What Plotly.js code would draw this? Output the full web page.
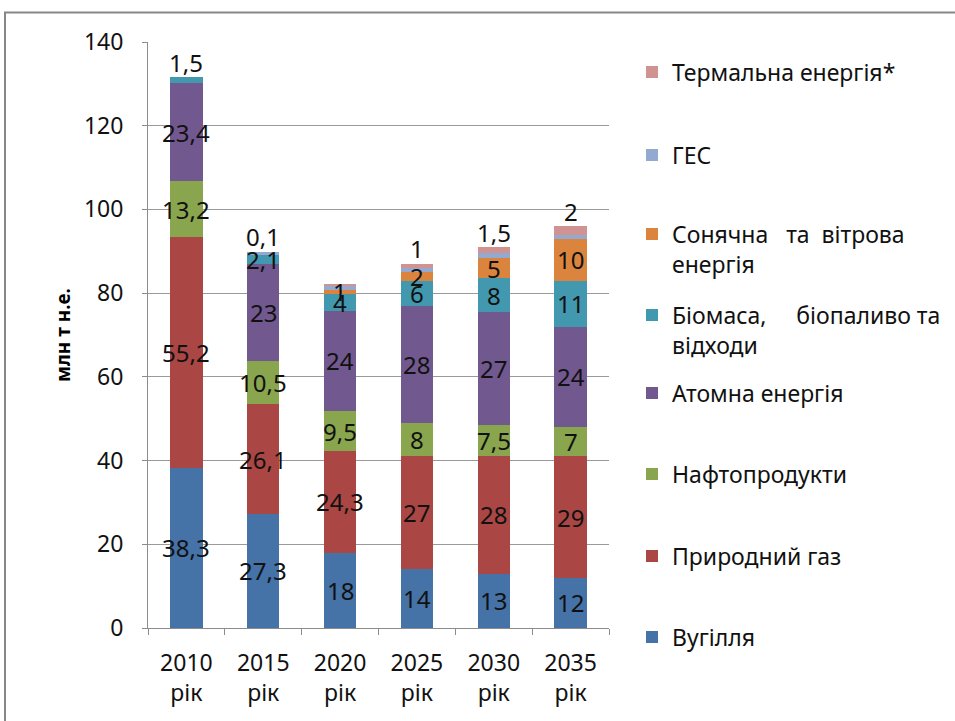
<!DOCTYPE html>
<html>
<head>
<meta charset="utf-8">
<script src="https://cdn.plot.ly/plotly-3.0.1.min.js"></script>
<style>html,body{margin:0;padding:0;background:#fff;}#chart{width:955px;height:721px;}</style>
</head>
<body>
<div id="chart"></div>
<script>
// ---- data ----
const categories = ['2010<br>рік', '2015<br>рік', '2020<br>рік', '2025<br>рік', '2030<br>рік', '2035<br>рік'];
const coal    = [38.3, 27.3, 18, 14, 13, 12];
const gas     = [55.2, 26.1, 24.3, 27, 28, 29];
const oil     = [13.2, 10.5, 9.5, 8, 7.5, 7];
const nuclear = [23.4, 23, 24, 28, 27, 24];
const biomass = [1.5, 2.1, 4, 6, 8, 11];
const solar   = [0, 0, 1, 2, 5, 10];
const hydro   = [0, 0.8, 1, 1, 1, 1];
const thermal = [0, 0.1, 0.4, 1, 1.5, 2];

const coalLabels    = ['38,3', '27,3', '18', '14', '13', '12'];
const gasLabels     = ['55,2', '26,1', '24,3', '27', '28', '29'];
const oilLabels     = ['13,2', '10,5', '9,5', '8', '7,5', '7'];
const nuclearLabels = ['23,4', '23', '24', '28', '27', '24'];
const biomassLabels = ['1,5', '2,1', '4', '6', '8', '11'];
const solarLabels   = ['', '', '1', '2', '5', '10'];
const hydroLabels   = ['', '', '', '', '', ''];
const thermalLabels = ['', '0,1', '', '1', '1,5', '2'];

const seriesNames = [
  'Вугілля',
  'Природний газ',
  'Нафтопродукти',
  'Атомна енергія',
  'Біомаса,\u00A0\u00A0\u00A0\u00A0 біопаливо та<br>відходи',
  'Сонячна\u00A0\u00A0 та\u00A0 вітрова<br>енергія',
  'ГЕС',
  'Термальна енергія*'
];
const seriesValues = [coal, gas, oil, nuclear, biomass, solar, hydro, thermal];
const seriesLabels = [coalLabels, gasLabels, oilLabels, nuclearLabels, biomassLabels, solarLabels, hydroLabels, thermalLabels];
const colors = ['#4572A7', '#AA4643', '#89A54E', '#71588F', '#4198AF', '#DB843D', '#93A9CF', '#D19392'];

// ---- layout geometry ----
const W = 955, H = 721;
const M = {l: 148, r: 346, t: 42, b: 93, autoexpand: false};
const plotW = W - M.l - M.r, plotH = H - M.t - M.b;
const px2x = p => (p - M.l) / plotW;
const py2y = p => (H - M.b - p) / plotH;

const FONT = '"Noto Sans", "Open Sans", sans-serif';

// legend centres (pixel y) for each series
const legendPix = [637, 556, 474, 393, 330, 249, 155, 72];

const traces = seriesValues.map((vals, i) => ({
  type: 'bar',
  name: seriesNames[i],
  x: categories,
  y: vals,
  marker: {color: colors[i], line: {width: 0}},
  legend: i === 0 ? 'legend' : 'legend' + (i + 1),
  hoverinfo: 'skip'
}));

// ---- labels ----
const annotations = [];
for (let c = 0; c < categories.length; c++) {
  let base = 0;
  let topIdx = 0;
  seriesValues.forEach((v, i) => { if (v[c] > 0) topIdx = i; });
  const total = seriesValues.reduce((s, v) => s + v[c], 0);
  seriesValues.forEach((v, i) => {
    const lab = seriesLabels[i][c];
    if (lab) {
      const above = (i === topIdx);
      annotations.push({
        x: categories[c], xref: 'x',
        y: above ? total : base + v[c] / 2, yref: 'y',
        text: lab, showarrow: false,
        yanchor: 'middle', yshift: above ? 15 : 0,
        font: {family: FONT, size: 24, color: '#111'}
      });
    }
    base += v[c];
  });
}

const layout = {
  width: W, height: H,
  margin: M,
  paper_bgcolor: '#fff', plot_bgcolor: '#fff',
  barmode: 'stack',
  bargap: 0.58,
  font: {family: FONT, color: '#111'},
  xaxis: {
    type: 'category',
    showgrid: false,
    showline: true, linecolor: '#8c8c8c', linewidth: 1,
    ticks: 'outside', tickson: 'boundaries', ticklen: 6, tickcolor: '#8c8c8c',
    tickfont: {family: FONT, size: 23, color: '#111'},
    ticklabelstandoff: 14,
    automargin: false,
    fixedrange: true
  },
  yaxis: {
    range: [0, 140], dtick: 20,
    showgrid: true, gridcolor: '#9a9a9a', gridwidth: 1,
    showline: true, linecolor: '#8c8c8c', linewidth: 1,
    ticks: 'outside', ticklen: 5, tickcolor: '#8c8c8c',
    tickfont: {family: FONT, size: 23, color: '#111'},
    ticklabelstandoff: 14,
    zeroline: false,
    automargin: false,
    title: {text: 'млн т н.е.', font: {family: FONT, size: 19, color: '#000', weight: 'bold'}, standoff: 8},
    fixedrange: true
  },
  annotations: annotations,
  shapes: [{
    type: 'rect', xref: 'paper', yref: 'paper',
    x0: px2x(5), x1: px2x(970), y0: py2y(740), y1: py2y(12.5),
    line: {color: '#878787', width: 2}, fillcolor: 'rgba(0,0,0,0)'
  }],
  showlegend: true
};

seriesNames.forEach((n, i) => {
  const key = i === 0 ? 'legend' : 'legend' + (i + 1);
  const multi = n.indexOf('<br>') >= 0;
  layout[key] = {
    x: px2x(632), xanchor: 'left',
    y: py2y(legendPix[i]), yanchor: 'middle',
    valign: multi ? 'top' : 'middle',
    bgcolor: 'rgba(0,0,0,0)',
    font: {family: FONT, size: 23, color: '#111'},
    itemclick: false, itemdoubleclick: false
  };
});

Plotly.newPlot('chart', traces, layout, {displayModeBar: false, staticPlot: true});
</script>
</body>
</html>
